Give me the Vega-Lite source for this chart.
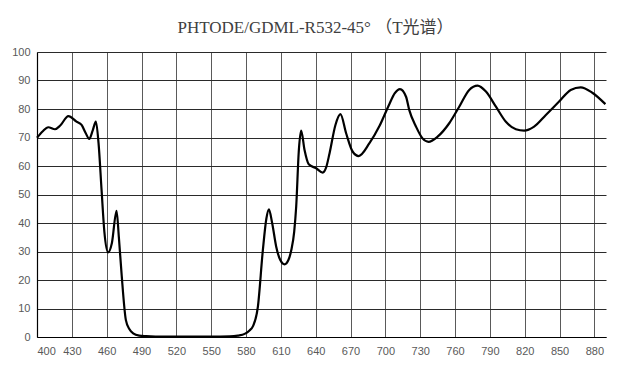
{
  "$schema": "https://vega.github.io/schema/vega-lite/v6.json",
  "width": 569,
  "height": 285,
  "autosize": {"type": "none"},
  "padding": {"left": 37, "top": 52, "right": 17, "bottom": 36},
  "background": "white",
  "title": {
    "text": "PHTODE/GDML-R532-45° （T光谱）",
    "font": "Liberation Serif, Noto Sans CJK SC",
    "fontSize": 17,
    "fontWeight": "normal",
    "color": "#404040",
    "offset": 9,
    "anchor": "middle",
    "dx": -6
  },
  "config": {
    "view": {"stroke": null},
    "axis": {
      "labelFont": "Liberation Sans",
      "labelFontSize": 11,
      "labelColor": "#595959",
      "ticks": false,
      "title": null,
      "domainColor": "#000000",
      "domainWidth": 1.2
    }
  },
  "data": {
    "values": [
      {"wl": 400, "T": 69.9},
      {"wl": 405, "T": 72.2},
      {"wl": 409.7, "T": 73.6},
      {"wl": 415.5, "T": 72.9},
      {"wl": 420, "T": 74.2},
      {"wl": 427, "T": 77.5},
      {"wl": 434, "T": 75.6},
      {"wl": 438.4, "T": 74.4},
      {"wl": 442, "T": 71.5},
      {"wl": 445, "T": 69.5},
      {"wl": 448, "T": 72.5},
      {"wl": 450.7, "T": 75.6},
      {"wl": 453, "T": 68},
      {"wl": 455.6, "T": 51.6},
      {"wl": 458, "T": 37},
      {"wl": 461.3, "T": 29.7},
      {"wl": 464.5, "T": 33},
      {"wl": 468.5, "T": 44.3},
      {"wl": 470.5, "T": 35},
      {"wl": 472.8, "T": 22.3},
      {"wl": 476.5, "T": 6},
      {"wl": 479.5, "T": 2.8},
      {"wl": 482.8, "T": 1.3},
      {"wl": 488, "T": 0.5},
      {"wl": 494, "T": 0.3},
      {"wl": 510, "T": 0.1},
      {"wl": 530, "T": 0.1},
      {"wl": 550, "T": 0.1},
      {"wl": 566, "T": 0.2},
      {"wl": 573, "T": 0.5},
      {"wl": 578.8, "T": 1.1},
      {"wl": 583, "T": 2.3},
      {"wl": 586, "T": 3.8},
      {"wl": 590.2, "T": 10.6},
      {"wl": 594.5, "T": 30.5},
      {"wl": 597.5, "T": 41.5},
      {"wl": 599.7, "T": 44.8},
      {"wl": 602.5, "T": 40},
      {"wl": 606, "T": 31.7},
      {"wl": 609.5, "T": 27},
      {"wl": 613.2, "T": 25.5},
      {"wl": 616.5, "T": 27},
      {"wl": 619, "T": 30.5},
      {"wl": 621.5, "T": 37},
      {"wl": 623.2, "T": 45.7},
      {"wl": 625.5, "T": 65.6},
      {"wl": 627.5, "T": 72.4},
      {"wl": 630.4, "T": 65.6},
      {"wl": 634, "T": 60.6},
      {"wl": 640.4, "T": 59.2},
      {"wl": 646.1, "T": 57.7},
      {"wl": 649, "T": 59.5},
      {"wl": 651.9, "T": 64.4},
      {"wl": 657, "T": 74.4},
      {"wl": 661.3, "T": 78.2},
      {"wl": 666.2, "T": 71.5},
      {"wl": 671.9, "T": 65},
      {"wl": 677, "T": 63.5},
      {"wl": 686.3, "T": 68},
      {"wl": 694.9, "T": 74},
      {"wl": 703.4, "T": 81.7},
      {"wl": 708, "T": 85.5},
      {"wl": 712.6, "T": 87},
      {"wl": 717.8, "T": 84.3},
      {"wl": 720.6, "T": 79.6},
      {"wl": 726.4, "T": 73.8},
      {"wl": 732, "T": 69.7},
      {"wl": 737.2, "T": 68.5},
      {"wl": 745, "T": 70.3},
      {"wl": 755, "T": 75},
      {"wl": 763.6, "T": 80.8},
      {"wl": 772.2, "T": 86.7},
      {"wl": 779.4, "T": 88.2},
      {"wl": 786.6, "T": 86.1},
      {"wl": 795.2, "T": 80.8},
      {"wl": 803.8, "T": 75.5},
      {"wl": 812.4, "T": 72.9},
      {"wl": 819.5, "T": 72.4},
      {"wl": 828.1, "T": 73.8},
      {"wl": 838.2, "T": 77.9},
      {"wl": 849.6, "T": 82.6},
      {"wl": 859.6, "T": 86.7},
      {"wl": 868.2, "T": 87.6},
      {"wl": 878.2, "T": 85.7},
      {"wl": 889.5, "T": 81.7}
    ]
  },
  "mark": {"type": "line", "color": "#000000", "strokeWidth": 2.2, "interpolate": "monotone"},
  "encoding": {
    "x": {
      "field": "wl",
      "type": "quantitative",
      "scale": {"domain": [400, 890], "nice": false, "zero": false},
      "axis": {
        "values": [400, 430, 460, 490, 520, 550, 580, 610, 640, 670, 700, 730, 760, 790, 820, 850, 880],
        "grid": true,
        "gridColor": "#5a5a5a",
        "gridWidth": 1,
        "labelPadding": 8
      }
    },
    "y": {
      "field": "T",
      "type": "quantitative",
      "scale": {"domain": [0, 100], "nice": false},
      "axis": {
        "values": [0, 10, 20, 30, 40, 50, 60, 70, 80, 90, 100],
        "grid": true,
        "gridColor": "#2a2a2a",
        "gridWidth": 1,
        "labelPadding": 7
      }
    }
  }
}
